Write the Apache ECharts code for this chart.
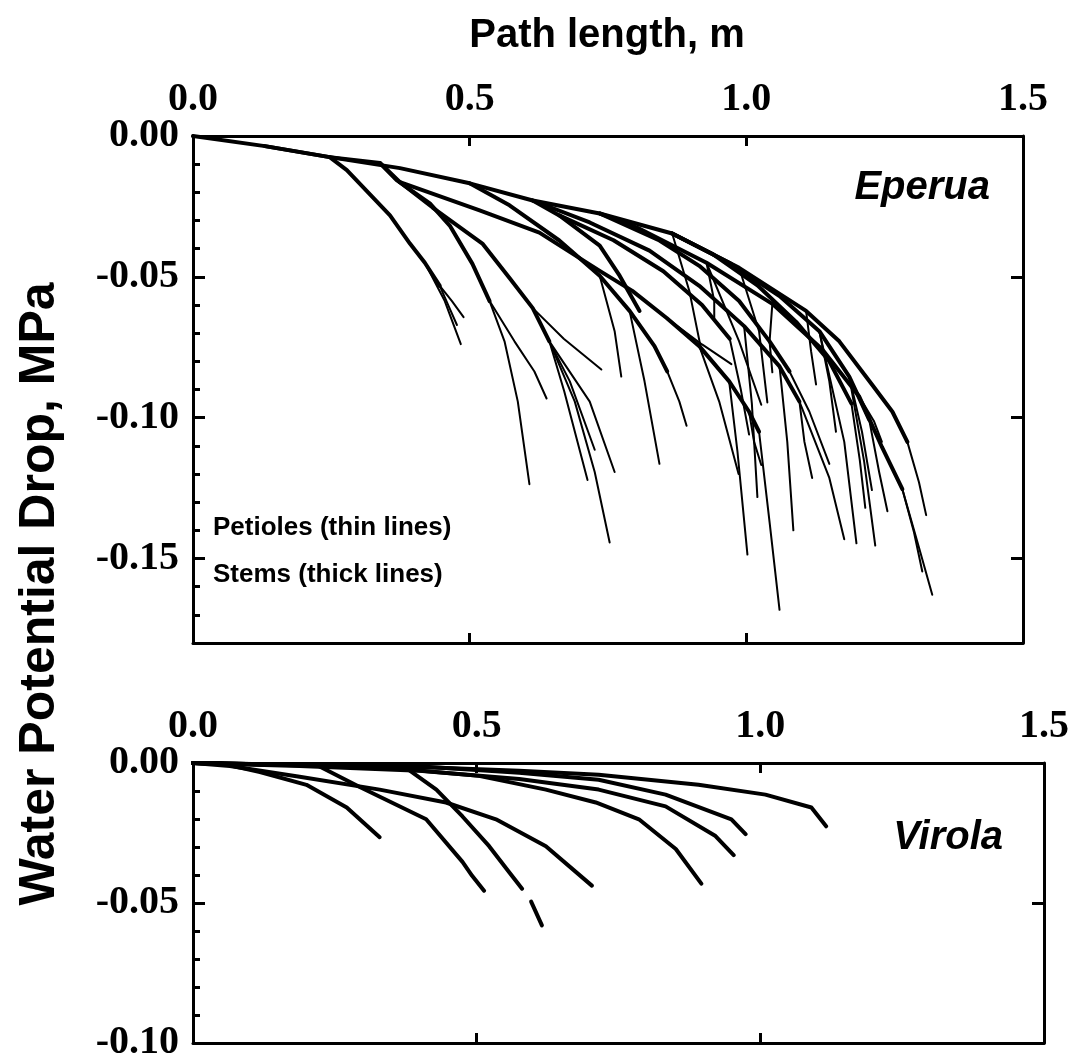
<!DOCTYPE html>
<html>
<head>
<meta charset="utf-8">
<script src="https://cdn.jsdelivr.net/npm/echarts@6/dist/echarts.min.js"></script>
<style>
  html, body { margin: 0; padding: 0; background: #fff; }
  #main { width: 1072px; height: 1063px; }
</style>
</head>
<body>
<div id="main"></div>
<script>
// tick values
var xTicks = [0, 0.5, 1.0, 1.5];
var eperuaYTicks = [0, -0.05, -0.10, -0.15];
var virolaYTicks = [0, -0.05, -0.10];

// Eperua stems (thick lines): [path length m, water potential drop MPa]
var eperuaStems = [
  [[0,0],[0.130,-0.0036],[0.247,-0.0075],[0.374,-0.0114],[0.500,-0.0168],[0.614,-0.0229],[0.735,-0.0275],[0.866,-0.0346],[0.987,-0.0468],[1.108,-0.0621],[1.168,-0.0729],[1.227,-0.0882],[1.264,-0.0979],[1.291,-0.1086]],
  [[0.735,-0.0275],[0.807,-0.0329],[0.928,-0.0450],[1.047,-0.0596],[1.137,-0.0757],[1.204,-0.0925],[1.245,-0.1104],[1.282,-0.1254]],
  [[0.866,-0.0346],[0.969,-0.0450],[1.060,-0.0568],[1.132,-0.0693],[1.186,-0.0854],[1.222,-0.1007]],
  [[0.614,-0.0229],[0.717,-0.0307],[0.825,-0.0407],[0.915,-0.0532],[0.996,-0.0675],[1.060,-0.0818],[1.096,-0.0943]],
  [[0.247,-0.0075],[0.338,-0.0096],[0.374,-0.0164],[0.518,-0.0264],[0.626,-0.0343],[0.735,-0.0479],[0.794,-0.0550],[0.856,-0.0646],[0.915,-0.0746],[0.969,-0.0871],[1.005,-0.0979],[1.023,-0.1050]],
  [[0.500,-0.0168],[0.572,-0.0246],[0.662,-0.0371],[0.735,-0.0496],[0.789,-0.0621],[0.834,-0.0746],[0.857,-0.0836]],
  [[0.374,-0.0164],[0.433,-0.0254],[0.523,-0.0382],[0.572,-0.0504],[0.614,-0.0611],[0.644,-0.0729]],
  [[0.338,-0.0096],[0.368,-0.0157],[0.428,-0.0239],[0.464,-0.0318],[0.505,-0.0454],[0.536,-0.0586]],
  [[0.130,-0.0036],[0.247,-0.0075],[0.278,-0.0121],[0.356,-0.0282],[0.392,-0.0382],[0.419,-0.0450],[0.446,-0.0532]],
  [[0.735,-0.0275],[0.843,-0.0371],[0.915,-0.0461],[0.987,-0.0586],[1.042,-0.0729],[1.078,-0.0836]],
  [[0.614,-0.0229],[0.662,-0.0282],[0.735,-0.0389],[0.771,-0.0496],[0.807,-0.0621]],
  [[0.866,-0.0346],[0.940,-0.0420],[1.020,-0.0530],[1.090,-0.0660],[1.150,-0.0800],[1.190,-0.0950]],
  [[0.662,-0.0282],[0.760,-0.0370],[0.850,-0.0480],[0.920,-0.0600],[0.970,-0.0720]]
];

// Eperua petioles (thin lines)
var eperuaPetioles = [
  [[0.446,-0.0532],[0.468,-0.0586],[0.489,-0.0643]],
  [[0.446,-0.0532],[0.462,-0.0604],[0.477,-0.0671]],
  [[0.419,-0.0450],[0.455,-0.0586],[0.484,-0.0739]],
  [[0.536,-0.0586],[0.563,-0.0729],[0.587,-0.0943],[0.608,-0.1236]],
  [[0.536,-0.0586],[0.581,-0.0729],[0.617,-0.0836],[0.639,-0.0932]],
  [[0.644,-0.0729],[0.671,-0.0907],[0.713,-0.1221]],
  [[0.644,-0.0729],[0.681,-0.0871],[0.726,-0.1114]],
  [[0.614,-0.0611],[0.670,-0.0720],[0.738,-0.0829]],
  [[0.644,-0.0729],[0.690,-0.0943],[0.726,-0.1193],[0.753,-0.1443]],
  [[0.644,-0.0729],[0.717,-0.0943],[0.762,-0.1193]],
  [[0.857,-0.0836],[0.879,-0.0943],[0.892,-0.1029]],
  [[0.789,-0.0621],[0.816,-0.0871],[0.843,-0.1164]],
  [[0.735,-0.0496],[0.762,-0.0693],[0.774,-0.0854]],
  [[1.023,-0.1050],[1.042,-0.1371],[1.060,-0.1682]],
  [[1.005,-0.0979],[1.014,-0.1086],[1.027,-0.1168]],
  [[0.969,-0.0871],[0.984,-0.1121],[1.002,-0.1486]],
  [[0.915,-0.0746],[0.951,-0.0943],[0.986,-0.1200]],
  [[0.856,-0.0646],[0.920,-0.0740],[0.973,-0.0810]],
  [[1.096,-0.0943],[1.105,-0.1086],[1.119,-0.1214]],
  [[1.060,-0.0818],[1.074,-0.1086],[1.085,-0.1400]],
  [[1.078,-0.0836],[1.114,-0.0979],[1.150,-0.1164]],
  [[1.222,-0.1007],[1.240,-0.1193],[1.255,-0.1332]],
  [[1.186,-0.0854],[1.209,-0.1050],[1.227,-0.1257]],
  [[1.186,-0.0854],[1.213,-0.1157],[1.233,-0.1454]],
  [[1.132,-0.0693],[1.150,-0.0871],[1.162,-0.1050]],
  [[1.132,-0.0693],[1.177,-0.1086],[1.199,-0.1446]],
  [[1.282,-0.1254],[1.303,-0.1407],[1.318,-0.1546]],
  [[1.282,-0.1254],[1.312,-0.1461],[1.336,-0.1629]],
  [[1.204,-0.0925],[1.231,-0.1014],[1.245,-0.1086]],
  [[1.291,-0.1086],[1.312,-0.1229],[1.325,-0.1346]],
  [[1.047,-0.0596],[1.042,-0.0729],[1.047,-0.0839]],
  [[0.987,-0.0468],[1.023,-0.0693],[1.038,-0.0946]],
  [[0.928,-0.0450],[0.987,-0.0729],[1.027,-0.0954]],
  [[0.928,-0.0450],[0.942,-0.0586],[0.942,-0.0646]],
  [[1.108,-0.0621],[1.117,-0.0764],[1.126,-0.0882]],
  [[0.996,-0.0675],[1.010,-0.0950],[1.020,-0.1282]],
  [[1.096,-0.0943],[1.150,-0.1214],[1.177,-0.1432]],
  [[0.866,-0.0346],[0.897,-0.0550],[0.919,-0.0764]],
  [[1.190,-0.0950],[1.205,-0.1150],[1.215,-0.1320]],
  [[0.970,-0.0720],[0.990,-0.0900],[1.005,-0.1060]]
];

// Virola stems
var virolaStems = [
  [[0,0],[0.047,0],[0.118,-0.0032],[0.200,-0.0078],[0.271,-0.0159],[0.329,-0.0265]],
  [[0,0],[0.100,-0.0004],[0.218,-0.0007],[0.293,-0.0085],[0.411,-0.0201],[0.475,-0.0353],[0.492,-0.0403],[0.513,-0.0456]],
  [[0,0],[0.188,-0.0007],[0.376,-0.0018],[0.429,-0.0095],[0.475,-0.0191],[0.522,-0.0297],[0.557,-0.0389],[0.580,-0.0449]],
  [[0.596,-0.0495],[0.615,-0.0580]],
  [[0,0],[0.065,-0.0011],[0.188,-0.0049],[0.329,-0.0095],[0.446,-0.0141],[0.534,-0.0201],[0.622,-0.0297],[0.703,-0.0438]],
  [[0,0],[0.188,-0.0007],[0.399,-0.0014],[0.575,-0.0028],[0.715,-0.0042],[0.891,-0.0078],[1.009,-0.0113],[1.090,-0.0159],[1.116,-0.0226]],
  [[0,0],[0.417,-0.0014],[0.575,-0.0035],[0.715,-0.0060],[0.833,-0.0113],[0.949,-0.0201],[0.974,-0.0254]],
  [[0,0],[0.188,-0.0011],[0.399,-0.0028],[0.575,-0.0057],[0.715,-0.0095],[0.833,-0.0155],[0.921,-0.0261],[0.953,-0.0329]],
  [[0,0],[0.329,-0.0014],[0.504,-0.0046],[0.622,-0.0095],[0.710,-0.0141],[0.786,-0.0201],[0.851,-0.0307],[0.896,-0.0431]]
];

var myChart = echarts.init(document.getElementById('main'), null, { renderer: 'canvas' });

var serif = '"Liberation Serif", "Times New Roman", serif';
var sans = '"Liberation Sans", Arial, sans-serif';
var lineBlack = { color: '#000', width: 3 };

function xAx(grid, pos, labels) {
  return {
    type: 'value', gridIndex: grid, position: pos, min: 0, max: 1.5, interval: 0.5,
    axisLine: { show: true, onZero: false, lineStyle: lineBlack },
    axisTick: { show: true, inside: true, length: 10, lineStyle: lineBlack },
    axisLabel: {
      show: labels, margin: 16, color: '#000', fontFamily: serif, fontWeight: 'bold', fontSize: 40,
      formatter: function (v) { return v.toFixed(1); }
    },
    splitLine: { show: false }
  };
}
function yMain(grid, pos, min, ticks, labels) {
  return {
    type: 'value', gridIndex: grid, position: pos, min: min, max: 0,
    axisLine: { show: true, onZero: false, lineStyle: lineBlack },
    axisTick: { show: true, inside: true, length: 12, lineStyle: lineBlack, customValues: ticks },
    axisLabel: {
      show: labels, margin: 14, color: '#000', fontFamily: serif, fontWeight: 'bold', fontSize: 40,
      customValues: ticks,
      formatter: function (v) { return v.toFixed(2); }
    },
    splitLine: { show: false }
  };
}
function yMinor(grid, min) {
  return {
    type: 'value', gridIndex: grid, position: 'left', min: min, max: 0, interval: 0.01,
    axisLine: { show: false },
    axisTick: { show: true, inside: true, length: 7, lineStyle: lineBlack },
    axisLabel: { show: false },
    splitLine: { show: false }
  };
}

var series = [];
eperuaPetioles.forEach(function (d) {
  series.push({ type: 'line', xAxisIndex: 0, yAxisIndex: 0, data: d, symbol: 'none', silent: true,
    lineStyle: { color: '#000', width: 2, cap: 'round', join: 'round' } });
});
eperuaStems.forEach(function (d) {
  series.push({ type: 'line', xAxisIndex: 0, yAxisIndex: 0, data: d, symbol: 'none', silent: true,
    lineStyle: { color: '#000', width: 4, cap: 'round', join: 'round' } });
});
virolaStems.forEach(function (d) {
  series.push({ type: 'line', xAxisIndex: 2, yAxisIndex: 3, data: d, symbol: 'none', silent: true,
    lineStyle: { color: '#000', width: 4, cap: 'round', join: 'round' } });
});

myChart.setOption({
  animation: false,
  backgroundColor: '#fff',
  grid: [
    { left: 193, top: 136, width: 830, height: 507 },
    { left: 193, top: 763, width: 854, height: 283 }
  ],
  xAxis: [
    xAx(0, 'top', true),
    xAx(0, 'bottom', false),
    xAx(1, 'top', true),
    xAx(1, 'bottom', false)
  ],
  yAxis: [
    yMain(0, 'left', -0.18, eperuaYTicks, true),
    yMinor(0, -0.18),
    yMain(0, 'right', -0.18, eperuaYTicks.slice(1), false),
    yMain(1, 'left', -0.10, virolaYTicks, true),
    yMinor(1, -0.10),
    yMain(1, 'right', -0.10, [-0.05], false)
  ],
  graphic: [
    { type: 'text', x: 607, y: 36, style: { text: 'Path length, m', font: 'bold 40px ' + sans, fill: '#000', textAlign: 'center', textVerticalAlign: 'middle' } },
    { type: 'text', x: 40, y: 594, rotation: Math.PI / 2, style: { text: 'Water Potential Drop, MPa', font: 'bold 50px ' + sans, fill: '#000', textAlign: 'center', textVerticalAlign: 'middle' } },
    { type: 'text', x: 990, y: 188, style: { text: 'Eperua', font: 'italic bold 40px ' + sans, fill: '#000', textAlign: 'right', textVerticalAlign: 'middle' } },
    { type: 'text', x: 1003, y: 838, style: { text: 'Virola', font: 'italic bold 40px ' + sans, fill: '#000', textAlign: 'right', textVerticalAlign: 'middle' } },
    { type: 'text', x: 213, y: 528, style: { text: 'Petioles (thin lines)', font: 'bold 26px ' + sans, fill: '#000', textAlign: 'left', textVerticalAlign: 'middle' } },
    { type: 'text', x: 213, y: 575, style: { text: 'Stems (thick lines)', font: 'bold 26px ' + sans, fill: '#000', textAlign: 'left', textVerticalAlign: 'middle' } }
  ],
  series: series
});
</script>
</body>
</html>
